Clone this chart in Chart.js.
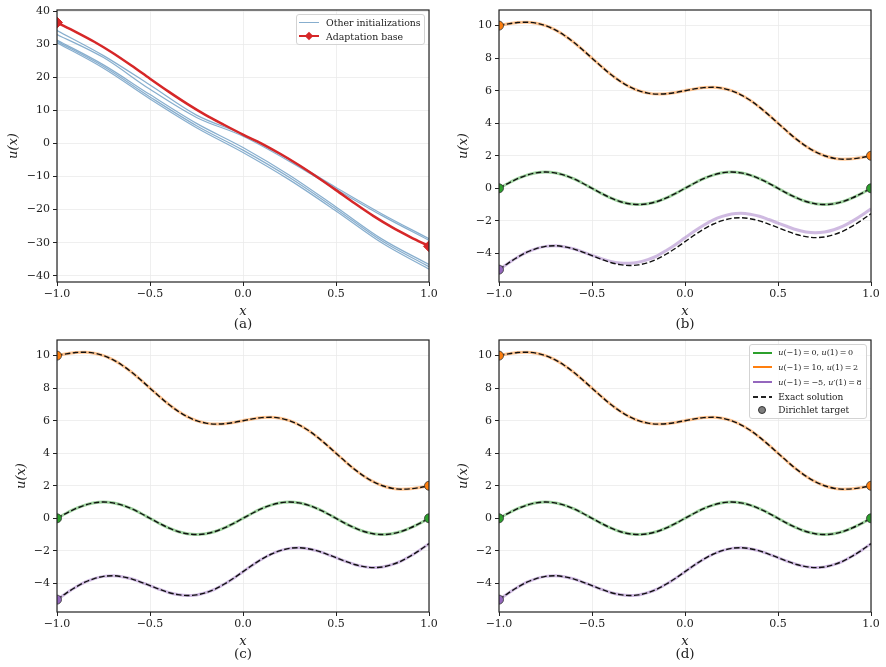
<!DOCTYPE html>
<html>
<head>
<meta charset="utf-8">
<script src="https://cdn.jsdelivr.net/npm/chart.js@4.4.0/dist/chart.umd.min.js"></script>
<style>
  body { margin: 0; background: #fff; }
  #fig { position: relative; width: 886px; height: 667px; font-family: "DejaVu Serif", serif; color: #222; overflow: hidden; }
  #fig canvas { position: absolute; }
  .cap { position: absolute; width: 60px; margin-left: -30px; text-align: center; font-size: 13.5px; line-height: 14px; }
  .legend { position: absolute; box-sizing: border-box; border: 1px solid #d3d3d3; border-radius: 3px; background: rgba(255,255,255,0.85); }
  .legend div { position: absolute; }
  .txt { white-space: nowrap; line-height: 11px; }
</style>
</head>
<body>
<div id="fig">
  <canvas id="panelA" width="443" height="319" style="left:0;top:0"></canvas>
  <canvas id="panelB" width="443" height="319" style="left:442px;top:0"></canvas>
  <canvas id="panelC" width="443" height="319" style="left:0;top:330px"></canvas>
  <canvas id="panelD" width="443" height="319" style="left:442px;top:330px"></canvas>

  <div class="cap" style="left:243px;top:316px">(a)</div>
  <div class="cap" style="left:685px;top:316px">(b)</div>
  <div class="cap" style="left:243px;top:646px">(c)</div>
  <div class="cap" style="left:685px;top:646px">(d)</div>

  <div class="legend" style="left:296px;top:14px;width:129px;height:31px">
    <div style="left:2px;top:6.7px;width:20px;height:1.3px;background:rgba(70,130,180,0.65)"></div>
    <div class="txt" style="left:29px;top:1.5px;font-size:9.4px">Other initializations</div>
    <div style="left:2px;top:19.8px;width:20px;height:2.5px;background:#d62728"></div>
    <div style="left:9.3px;top:18px;width:6px;height:6px;background:#d62728;transform:rotate(45deg)"></div>
    <div class="txt" style="left:29px;top:15.5px;font-size:9.4px">Adaptation base</div>
  </div>

  <div class="legend" style="left:749px;top:344px;width:118px;height:75px">
    <div style="left:2.7px;top:6.7px;width:19px;height:2px;background:#2ca02c"></div>
    <div class="txt" style="left:28.3px;top:2.2px;font-size:8px"><i>u</i>(−1)&thinsp;=&thinsp;0, <i>u</i>(1)&thinsp;=&thinsp;0</div>
    <div style="left:2.7px;top:21.3px;width:19px;height:2px;background:#ff7f0e"></div>
    <div class="txt" style="left:28.3px;top:16.8px;font-size:8px"><i>u</i>(−1)&thinsp;=&thinsp;10, <i>u</i>(1)&thinsp;=&thinsp;2</div>
    <div style="left:2.7px;top:36px;width:19px;height:2px;background:#9467bd"></div>
    <div class="txt" style="left:28.3px;top:31.5px;font-size:8px"><i>u</i>(−1)&thinsp;=&thinsp;−5, <i>u</i>′(1)&thinsp;=&thinsp;8</div>
    <div style="left:2.7px;top:51.2px;width:19px;height:1.5px;background:repeating-linear-gradient(90deg,#222 0 5.5px,transparent 5.5px 8px)"></div>
    <div class="txt" style="left:28.3px;top:46.5px;font-size:9px">Exact solution</div>
    <div style="left:7.7px;top:61.2px;width:8px;height:8px;box-sizing:border-box;border-radius:50%;background:#7f7f7f;border:1px solid #333"></div>
    <div class="txt" style="left:28.3px;top:60.2px;font-size:9px">Dirichlet target</div>
  </div>
</div>

<script>
// x grid used for the smooth solution curves
const xFine = [-1, -0.95, -0.9, -0.85, -0.8, -0.75, -0.7, -0.65, -0.6, -0.55,
  -0.5, -0.45, -0.4, -0.35, -0.3, -0.25, -0.2, -0.15, -0.1, -0.05,
  0, 0.05, 0.1, 0.15, 0.2, 0.25, 0.3, 0.35, 0.4, 0.45,
  0.5, 0.55, 0.6, 0.65, 0.7, 0.75, 0.8, 0.85, 0.9, 0.95, 1];

const exactGreen = [0, 0.31, 0.59, 0.81, 0.95, 1, 0.95, 0.81, 0.59, 0.31,
  0, -0.31, -0.59, -0.81, -0.95, -1, -0.95, -0.81, -0.59, -0.31,
  0, 0.31, 0.59, 0.81, 0.95, 1, 0.95, 0.81, 0.59, 0.31,
  0, -0.31, -0.59, -0.81, -0.95, -1, -0.95, -0.81, -0.59, -0.31, 0];

const exactOrange = [10, 10.11, 10.19, 10.21, 10.15, 10, 9.75, 9.41, 8.99, 8.51,
  8, 7.49, 7.01, 6.59, 6.25, 6, 5.85, 5.79, 5.81, 5.89,
  6, 6.11, 6.19, 6.21, 6.15, 6, 5.75, 5.41, 4.99, 4.51,
  4, 3.49, 3.01, 2.59, 2.25, 2, 1.85, 1.79, 1.81, 1.89, 2];

const exactPurple = [-5, -4.6, -4.24, -3.93, -3.71, -3.57, -3.53, -3.59, -3.72, -3.92,
  -4.14, -4.36, -4.56, -4.69, -4.75, -4.71, -4.57, -4.35, -4.04, -3.68,
  -3.28, -2.88, -2.52, -2.21, -1.99, -1.85, -1.81, -1.87, -2.0, -2.2,
  -2.42, -2.64, -2.84, -2.97, -3.03, -2.99, -2.85, -2.63, -2.32, -1.96, -1.56];

// panel (b): the Neumann case drifts away from the exact curve
const predPurpleB = [-5, -4.6, -4.24, -3.93, -3.71, -3.57, -3.53, -3.59, -3.72, -3.91,
  -4.12, -4.32, -4.49, -4.59, -4.61, -4.54, -4.38, -4.15, -3.82, -3.45,
  -3.04, -2.64, -2.27, -1.95, -1.73, -1.58, -1.54, -1.59, -1.72, -1.92,
  -2.14, -2.35, -2.55, -2.68, -2.73, -2.69, -2.55, -2.33, -2.02, -1.66, -1.26];

// panel (a)
const xBase = [-1, -0.9, -0.8, -0.7, -0.6, -0.5, -0.4, -0.3, -0.2, -0.1,
  0, 0.1, 0.2, 0.3, 0.4, 0.5, 0.6, 0.7, 0.8, 0.9, 1];
const adaptBase = [36.6, 33.8, 30.8, 27.4, 23.6, 19.6, 15.7, 12.0, 8.6, 5.6,
  2.7, 0.0, -3.1, -6.5, -10.2, -14.1, -18.1, -21.9, -25.3, -28.3, -31.1];
const adaptEnds = [[-1, 36.6], [1, -31.1]];

const xOther = [-1, -0.75, -0.5, -0.25, 0, 0.25, 0.5, 0.75, 1];
const otherInit1 = [34.2, 26.6, 17.7, 8.6, 2.7, -4.9, -13.3, -21.4, -28.8];
const otherInit2 = [33.0, 26.0, 16.4, 7.9, 2.2, -5.4, -13.8, -21.9, -29.3];
const otherInit3 = [31.3, 23.8, 14.8, 6.1, -1.2, -9.6, -19.2, -29.0, -36.6];
const otherInit4 = [30.9, 23.3, 14.1, 5.4, -2.0, -10.3, -19.8, -29.6, -37.3];
const otherInit5 = [30.5, 22.8, 13.5, 4.8, -2.7, -11.0, -20.4, -30.2, -38.0];

// boundary targets
const targetGreen = [[-1, 0], [1, 0]];
const targetOrange = [[-1, 10], [1, 2]];
const targetPurple = [[-1, -5]];

// ticks
const xTicks = [-1, -0.5, 0, 0.5, 1];
const xTickLabels = ["−1.0", "−0.5", "0.0", "0.5", "1.0"];
const yTicksA = [-40, -30, -20, -10, 0, 10, 20, 30, 40];
const yTickLabelsA = ["−40", "−30", "−20", "−10", "0", "10", "20", "30", "40"];
const yTicksB = [-4, -2, 0, 2, 4, 6, 8, 10];
const yTickLabelsB = ["−4", "−2", "0", "2", "4", "6", "8", "10"];

const GREEN = "#2ca02c";
const ORANGE = "#ff7f0e";
const PURPLE = "#9467bd";

function pts(xs, ys) {
  return xs.map((x, i) => ({ x: x, y: ys[i] }));
}

function pairs(list) {
  return list.map((p) => ({ x: p[0], y: p[1] }));
}

// matplotlib style box around the axes
const framePlugin = {
  id: "frame",
  afterDraw(chart) {
    const { ctx, chartArea } = chart;
    ctx.save();
    ctx.strokeStyle = "#222";
    ctx.lineWidth = 1.2;
    ctx.strokeRect(chartArea.left, chartArea.top, chartArea.right - chartArea.left, chartArea.bottom - chartArea.top);
    ctx.restore();
  },
};

function lineSet(xs, ys, color, width, order, dash) {
  return {
    data: pts(xs, ys),
    borderColor: color,
    borderWidth: width,
    borderDash: dash || [],
    pointRadius: 0,
    cubicInterpolationMode: "monotone",
    fill: false,
    order: order,
  };
}

function markerSet(list, color, order, style, radius) {
  return {
    data: pairs(list),
    showLine: false,
    pointStyle: style || "circle",
    pointRadius: radius || 4.5,
    pointBackgroundColor: color,
    pointBorderColor: style ? color : "#333",
    pointBorderWidth: style ? 1 : 0.8,
    clip: 0,
    order: order,
  };
}

function makePanel(id, datasets, yMin, yMax, yTicks, yLabels, yTitlePad) {
  const tickFont = { family: "DejaVu Serif", size: 11 };
  const titleFont = { family: "DejaVu Serif", size: 13, style: "italic", lineHeight: 1 };
  const gridCfg = { color: "#ebebeb", lineWidth: 0.8, tickColor: "#222", tickLength: 4, tickWidth: 1 };

  return new Chart(document.getElementById(id), {
    type: "line",
    data: { datasets: datasets },
    options: {
      responsive: false,
      animation: false,
      events: [],
      layout: { padding: { top: 10, right: 14, left: 0, bottom: 0 } },
      plugins: { legend: { display: false }, tooltip: { enabled: false } },
      scales: {
        x: {
          type: "linear",
          min: -1,
          max: 1,
          afterBuildTicks: (scale) => {
            scale.ticks = xTicks.map((v) => ({ value: v }));
          },
          afterFit: (scale) => {
            scale.height = 37;
          },
          grid: gridCfg,
          border: { display: false },
          ticks: {
            font: tickFont,
            color: "#222",
            padding: 2,
            maxRotation: 0,
            autoSkip: false,
            callback: (v, i) => xTickLabels[i],
          },
          title: { display: true, text: "x", font: titleFont, color: "#222", padding: { top: 0, bottom: 1 } },
        },
        y: {
          type: "linear",
          min: yMin,
          max: yMax,
          afterBuildTicks: (scale) => {
            scale.ticks = yTicks.map((v) => ({ value: v }));
          },
          afterFit: (scale) => {
            scale.width = 57;
          },
          grid: gridCfg,
          border: { display: false },
          ticks: {
            font: tickFont,
            color: "#222",
            padding: 3,
            autoSkip: false,
            callback: (v, i) => yLabels[i],
          },
          title: { display: true, text: "u(x)", font: titleFont, color: "#222", padding: { top: yTitlePad, bottom: 0 } },
        },
      },
    },
    plugins: [framePlugin],
  });
}

function solutionSets(predGreen, predOrange, predPurple) {
  return [
    markerSet(targetGreen, GREEN, 0),
    markerSet(targetOrange, ORANGE, 0),
    markerSet(targetPurple, PURPLE, 0),
    lineSet(xFine, exactOrange, "#111", 1.4, 1, [5.5, 2.5]),
    lineSet(xFine, exactGreen, "#111", 1.4, 1, [5.5, 2.5]),
    lineSet(xFine, exactPurple, "#111", 1.4, 1, [5.5, 2.5]),
    lineSet(xFine, predOrange, "rgba(255,127,14,0.45)", 3, 2),
    lineSet(xFine, predGreen, "rgba(44,160,44,0.45)", 3, 2),
    lineSet(xFine, predPurple, "rgba(148,103,189,0.45)", 3, 2),
  ];
}

function mainEvent() {
  const blue = "rgba(70,130,180,0.65)";
  makePanel("panelA", [
    markerSet(adaptEnds, "#d62728", 0, "rectRot", 5.5),
    lineSet(xBase, adaptBase, "#d62728", 2.5, 1),
    lineSet(xOther, otherInit1, blue, 1.2, 2),
    lineSet(xOther, otherInit2, blue, 1.2, 2),
    lineSet(xOther, otherInit3, blue, 1.2, 2),
    lineSet(xOther, otherInit4, blue, 1.2, 2),
    lineSet(xOther, otherInit5, blue, 1.2, 2),
  ], -41.9, 40.4, yTicksA, yTickLabelsA, 7);

  makePanel("panelB", solutionSets(exactGreen, exactOrange, predPurpleB), -5.76, 10.96, yTicksB, yTickLabelsB, 15);
  makePanel("panelC", solutionSets(exactGreen, exactOrange, exactPurple), -5.76, 10.96, yTicksB, yTickLabelsB, 15);
  makePanel("panelD", solutionSets(exactGreen, exactOrange, exactPurple), -5.76, 10.96, yTicksB, yTickLabelsB, 15);
}

document.addEventListener("DOMContentLoaded", () => mainEvent());
</script>
</body>
</html>
